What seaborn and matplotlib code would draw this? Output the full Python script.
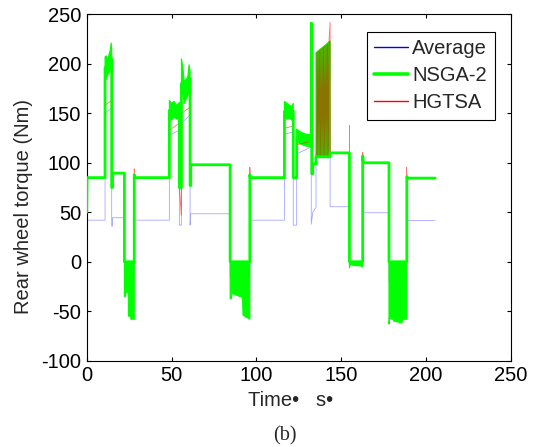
import numpy as np
import pandas as pd
import matplotlib
matplotlib.use("Agg")
import matplotlib.pyplot as plt
from matplotlib.lines import Line2D
import seaborn as sns

# ---- Rear wheel torque traces (time in s, torque in Nm) ----
avg_time = [0, 0.2, 10.8, 10.8, 14.7, 14.7, 15.2, 15.2, 22.2, 22.2, 28.0, 28.0, 28.4,
            48.7, 48.7, 54.6, 54.6, 55.8, 55.8, 60.9, 60.9, 61.3, 84.5, 84.5, 96.1,
            96.1, 96.5, 116.5, 116.5, 121.7, 121.7, 123.7, 123.7, 132.3, 132.3, 133.2,
            135.1, 135.1, 143.4, 143.4, 154.8, 154.8, 162.6, 162.6, 163.0, 178.1, 178.1,
            188.6, 188.6, 205.3]
avg_torque = [20, 42, 42, 150, 155, 36, 36, 44.5, 44.5, -15, -15, 37, 42,
              42, 128, 133, 37, 37, 140, 148, 37, 48.5, 48.5, -15, -15,
              37, 42, 42, 129, 131, 37, 37, 109, 116, 38, 50,
              55, 109, 109, 55.6, 55.6, -2, -2, 44, 49.5, 49.5, -20,
              -20, 41.7, 41.7]

nsga_time = [0, 0.2, 10.8, 10.8, 14.7, 14.7, 15.2, 15.2, 22.2, 22.2, 28.0, 28.0, 28.3,
             48.7, 48.7, 54.6, 54.6, 55.8, 55.8, 60.9, 60.9, 61.3, 61.3, 84.5, 84.5,
             96.1, 96.1, 96.4, 116.5, 116.5, 121.7, 121.7, 123.7, 123.7, 132.3, 132.3,
             132.6, 132.6, 133.2, 133.2, 135.1, 135.1, 143.4, 143.4, 154.8, 154.8,
             162.6, 162.6, 163.0, 178.1, 178.1, 188.6, 188.6, 189.0, 205.3]
nsga_torque = [50, 85, 85, 196, 205, 75, 75, 89.5, 89.5, 0, 0, 88, 85,
               85, 153, 153, 75, 75, 180, 185, 77, 77, 98, 98, 0,
               0, 88, 85, 85, 152, 152, 85, 85, 125, 122, 241,
               241, 89, 89, 99, 99, 106, 106, 110, 110, 0,
               0, 107, 100, 100, 0, 0, 86, 84.5, 84.5]

# Envelopes of the fast-switching torque bursts (NaN separates bursts)
nan = np.nan
burst_time = [10.8, 11.6, 12.4, 13.2, 13.9, 14.4, 14.7, nan,
              22.2, 22.9, 23.0, 24.5, 24.6, 25.9, 26.0, 28.0, nan,
              48.7, 50.0, 51.5, 53.0, 54.6, nan,
              55.8, 56.6, 57.4, 58.5, 59.6, 60.3, 60.9, nan,
              84.5, 85.3, 85.5, 88.5, 91.8, 92.1, 94.0, 96.1, nan,
              116.5, 118.0, 119.5, 121.0, 121.7, nan,
              123.7, 126.0, 129.0, 132.3, nan,
              135.1, 143.4, nan,
              154.8, 155.3, 158.0, 161.0, 162.6, nan,
              178.1, 178.5, 180.3, 181.0, 183.6, 185.6, 186.5, 188.6]
burst_low = [186, 185, 189, 191, 194, 197, 200, nan,
             -35, -35, -31, -31, -55, -55, -58, -58, nan,
             145, 143, 146, 144, 147, nan,
             168, 172, 160, 164, 168, 172, 178, nan,
             -37, -37, -32, -34, -36, -54, -56, -58, nan,
             146, 144, 145, 143, 146, nan,
             121, 119, 117, 116, nan,
             106, 106, nan,
             -6, -3, -4, -4, -5, nan,
             -63, -57, -58, -60, -61, -62, -58, -58]
burst_high = [207, 208, 204, 210, 214, 221, 216, nan,
              0, 0, 0, 0, 0, 0, 0, 0, nan,
              163, 160, 162, 158, 161, nan,
              205, 198, 182, 184, 187, 199, 193, nan,
              0, 0, 0, 0, 0, 0, 0, 0, nan,
              162, 160, 158, 157, 160, nan,
              134, 131, 129, 128, nan,
              211, 223, nan,
              0, 0, 0, 0, 0, nan,
              0, 0, 0, 0, 0, 0, 0, 0]

hgtsa_time = [0, 0.2, 10.8, 10.8, 14.7, 14.7, 15.2, 15.2, 22.2, 22.2, 28.0, 28.0, 28.3,
              48.7, 48.7, 54.6, 54.6, 55.7, 55.8, 60.9, 60.9, 61.3, 84.5, 84.5,
              96.1, 96.1, 96.4, 116.5, 116.5, 121.7, 121.7, 123.7, 123.7, 132.3,
              132.3, 132.6, 133.2, 135.1,
              135.5, 135.6, 136.2, 136.3, 137.0, 137.1, 137.8, 137.9, 138.6, 138.7,
              139.4, 139.5, 140.2, 140.3, 141.0, 141.1, 141.8, 141.9, 142.6, 142.7,
              143.4, 143.5, 154.8, 154.8, 154.9, 162.6, 162.6, 162.9, 178.1, 178.1,
              188.4, 188.4, 188.8, 205.3]
hgtsa_torque = [50, 85, 85, 158, 163, 75, 75, 89.5, 89.5, 0, 0, 94, 85,
                85, 133, 140, 75, 47, 150, 156, 77, 98, 98, 0,
                0, 95.5, 85, 85, 135, 137, 85, 85, 118, 122,
                241, 89, 99, 99,
                106, 212, 106, 213, 106, 214, 106, 215, 106, 216,
                106, 217, 106, 218, 106, 219, 106, 220, 106, 221,
                242, 110, 110, 137.6, 0, 0, 110.7, 100, 100, 0,
                0, 95.6, 84.5, 84.5]

x_ticks = [0, 50, 100, 150, 200, 250]
y_ticks = [-100, -50, 0, 50, 100, 150, 200, 250]
series_names = ["Average", "NSGA-2", "HGTSA"]
series_colors = ["#0000ff", "#00ff00", "#ff0000"]

# ---- Style ----
sns.set_style("ticks")
plt.rcParams["font.family"] = ["Liberation Sans", "DejaVu Sans"]
plt.rcParams["axes.linewidth"] = 0.8
plt.rcParams["axes.unicode_minus"] = False

fig = plt.figure(figsize=(5.40, 4.47), dpi=100)
ax = fig.add_axes([0.1606, 0.193, 0.7857, 0.775])

sns.lineplot(x=avg_time, y=avg_torque, sort=False, estimator=None, ax=ax,
             color=series_colors[0], lw=0.6, alpha=0.35, zorder=1.5)
ax.fill_between(np.array(burst_time, float), np.array(burst_low, float),
                np.array(burst_high, float), color=series_colors[1], lw=0.8,
                edgecolor=series_colors[1], alpha=1.0, zorder=2.5)
sns.lineplot(x=hgtsa_time, y=hgtsa_torque, sort=False, estimator=None, ax=ax,
             color=series_colors[2], lw=0.6, alpha=0.55, zorder=3)
sns.lineplot(x=nsga_time, y=nsga_torque, sort=False, estimator=None, ax=ax,
             color=series_colors[1], lw=2.0, zorder=4)

ax.set_xlim(0, 250)
ax.set_ylim(-100, 250)
ax.set_xticks(x_ticks)
ax.set_yticks(y_ticks)
ax.tick_params(direction="in", length=3, width=0.8, top=True, right=True,
               labelsize=14.5, pad=4, colors="black")
for s in ax.spines.values():
    s.set_visible(True)
    s.set_color("black")

ax.set_xlabel("Time\u2022   s\u2022", fontsize=14.5)
ax.xaxis.set_label_coords(0.4815, -0.0875)
ax.set_ylabel("Rear wheel torque (Nm)", fontsize=14.5)
ax.yaxis.set_label_coords(-0.1266, 0.445)

handles = [Line2D([], [], color=series_colors[0], lw=1.0),
           Line2D([], [], color=series_colors[1], lw=2.6),
           Line2D([], [], color=series_colors[2], lw=1.0)]
leg = ax.legend(handles, series_names, loc="upper left", bbox_to_anchor=(0.66, 0.95),
                fontsize=14.5, frameon=True, fancybox=False, framealpha=1,
                edgecolor="black", handlelength=1.65, handletextpad=0.22,
                borderpad=0.38, labelspacing=0.4, borderaxespad=0)
leg.get_frame().set_linewidth(0.8)

fig.text(0.528, 0.0246, "(b)", ha="center", va="center", fontsize=14.5,
         family=["Liberation Serif", "DejaVu Serif"])

fig.savefig("out.png", dpi=100)
